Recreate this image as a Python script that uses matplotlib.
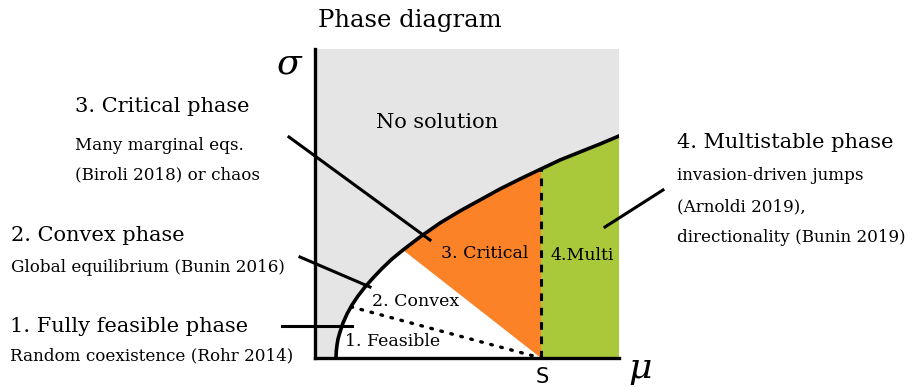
import matplotlib.pyplot as plt
import numpy as np

plt.rcParams['font.family'] = ['DejaVu Serif']
plt.rcParams['mathtext.fontset'] = 'dejavuserif'

# boundary of the "no solution" region (mu, sigma)
edge_mu = [0.21, 0.213, 0.22, 0.23, 0.25, 0.28, 0.32, 0.37, 0.43, 0.50, 0.58, 0.67, 0.77,
           0.88, 1.05, 1.25, 1.45, 1.65, 1.85, 2.05, 2.26, 2.45, 2.65, 2.85, 3.04]
edge_sigma = [0.0, 0.07, 0.13, 0.19, 0.26, 0.35, 0.44, 0.53, 0.62, 0.71, 0.80, 0.895, 0.99,
              1.08, 1.21, 1.35, 1.47, 1.58, 1.69, 1.79, 1.89, 1.98, 2.06, 2.14, 2.22]

# S: onset of multistability; the critical wedge starts where it meets the edge
S = 2.26
crit_mu = 0.88
feas_mu = 0.36

region_names = ['No solution', '3. Critical', '4.Multi', '2. Convex', '1. Feasible']

phase_titles = ['1. Fully feasible phase', '2. Convex phase', '3. Critical phase', '4. Multistable phase']
phase_notes = [
    ['Random coexistence (Rohr 2014)'],
    ['Global equilibrium (Bunin 2016)'],
    ['Many marginal eqs.', '(Biroli 2018) or chaos'],
    ['invasion-driven jumps', '(Arnoldi 2019),', 'directionality (Bunin 2019)'],
]

W, H = 913, 387
fig = plt.figure(figsize=(W / 100, H / 100), dpi=100)
ax = fig.add_axes([315 / W, (H - 358) / H, 304 / W, 309 / H])
ax.set_xlim(0, 3.04)
ax.set_ylim(0, 3.09)
ax.set_facecolor('#e5e5e5')
for side in ['top', 'right']:
    ax.spines[side].set_visible(False)
for side in ['left', 'bottom']:
    ax.spines[side].set_linewidth(2.4)
ax.set_xticks([])
ax.set_yticks([])

mu = np.array(edge_mu)
sg = np.array(edge_sigma)
sg_S = np.interp(S, mu, sg)
sg_c = np.interp(crit_mu, mu, sg)
sg_f = np.interp(feas_mu, mu, sg)

# white area under the edge up to S
m = mu < S
ax.fill(np.r_[mu[m], S, S], np.r_[sg[m], sg_S, 0], color='white', lw=0, zorder=1)

# orange critical wedge
m = (mu > crit_mu) & (mu < S)
ax.fill(np.r_[crit_mu, mu[m], S, S], np.r_[sg_c, sg[m], sg_S, 0],
        color='#fc8228', lw=0, zorder=2)

# green multistable band
m = mu > S
ax.fill(np.r_[S, mu[m], mu[-1], S], np.r_[sg_S, sg[m], 0, 0], color='#a9c83a', lw=0, zorder=2)

ax.plot(mu, sg, color='black', lw=2.6, zorder=4, solid_joinstyle='round')
ax.plot([S, S], [0, sg_S], color='black', lw=2.2, ls=(0, (2.5, 2.2)), zorder=4)
ax.plot([feas_mu, S], [sg_f, 0], color='black', lw=2.4,
        ls=(0, (0.5, 2.6)), dash_capstyle='round', zorder=4)

# leader lines from the side labels into the regions
leaders = [
    ([-0.33, 0.37], [0.32, 0.32]),
    ([-0.15, 0.55], [1.01, 0.71]),
    ([-0.26, 1.15], [2.21, 1.18]),
    ([3.48, 2.90], [1.68, 1.31]),
]
for lx, ly in leaders:
    ax.plot(lx, ly, color='black', lw=2.2, clip_on=False, zorder=5)


def put(x, y, s, **kw):
    fig.text(x / W, 1 - y / H, s, **kw)


put(410, 20, 'Phase diagram', fontsize=17.5, ha='center', va='center')
put(290, 63, r'$\sigma$', fontsize=26, ha='center', va='center')
put(640, 370, r'$\mu$', fontsize=26, ha='center', va='center')
put(542, 377, 'S', fontsize=15, ha='center', va='center', family='DejaVu Sans')

region_xy = [(437, 123), (485, 254), (582, 256), (416, 301), (393, 341)]
region_fs = [15, 12.5, 12.5, 12.5, 12.5]
for (x, y), s, fs in zip(region_xy, region_names, region_fs):
    put(x, y, s, fontsize=fs, ha='center', va='center', zorder=6)

title_xy = [(10, 326), (11, 235), (75, 107), (677, 142)]
note_y = [[356], [267], [145, 175], [175, 207, 238]]
for (x, y), t, notes, ys in zip(title_xy, phase_titles, phase_notes, note_y):
    put(x, y, t, fontsize=15, ha='left', va='center')
    for n, yy in zip(notes, ys):
        put(x, yy, n, fontsize=12.1, ha='left', va='center')

fig.savefig('out.png', dpi=100)
